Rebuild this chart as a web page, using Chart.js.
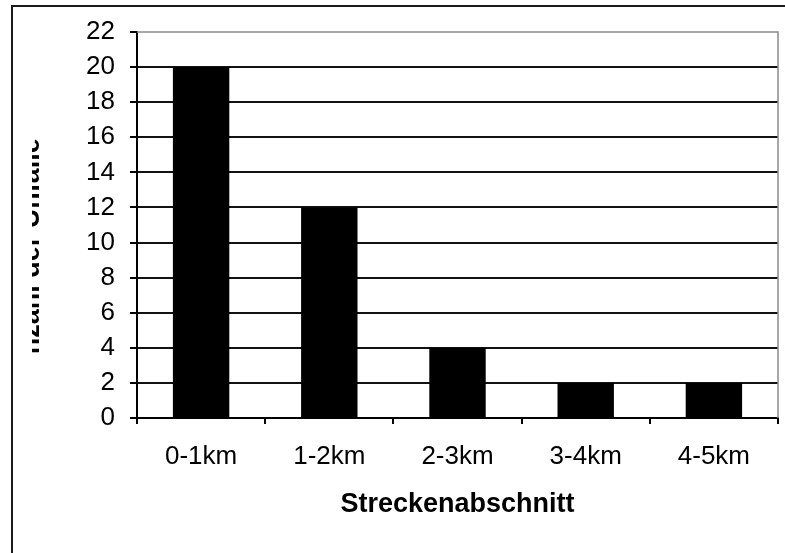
<!DOCTYPE html>
<html>
<head>
<meta charset="utf-8">
<script src="https://cdn.jsdelivr.net/npm/chart.js@4.4.1/dist/chart.umd.min.js"></script>
<style>
  html, body { margin: 0; padding: 0; background: #fff; }
  canvas { display: block; }
</style>
</head>
<body>
<canvas id="chart" width="785" height="553"></canvas>
<script>
// Unfälle je Streckenabschnitt
const categories = ['0-1km', '1-2km', '2-3km', '3-4km', '4-5km'];
const accidents = [20, 12, 4, 2, 2];
const yMin = 0;
const yMax = 22;
const yStep = 2;

const xTitle = 'Streckenabschnitt';
const yTitle = 'Anzahl der Unfälle';

const FONT = '"Liberation Sans", Arial, sans-serif';

// white page + outer frame (runs off the right/bottom edge like the original)
const framePlugin = {
    id: 'frame',
    beforeDraw(chart) {
        const ctx = chart.ctx;
        ctx.save();
        ctx.fillStyle = '#fff';
        ctx.fillRect(0, 0, chart.width, chart.height);
        ctx.strokeStyle = '#1a1a1a';
        ctx.lineWidth = 2;
        ctx.strokeRect(12, 6, chart.width + 50, chart.height + 50);
        ctx.restore();
    }
};

// gray top/right border of the plot area
const plotBorderPlugin = {
    id: 'plotBorder',
    beforeDatasetsDraw(chart) {
        const { ctx, chartArea } = chart;
        ctx.save();
        ctx.strokeStyle = '#8a8a8a';
        ctx.lineWidth = 1.5;
        ctx.beginPath();
        ctx.moveTo(chartArea.left, chartArea.top);
        ctx.lineTo(chartArea.right, chartArea.top);
        ctx.lineTo(chartArea.right, chartArea.bottom);
        ctx.stroke();
        ctx.restore();
    }
};

// y axis title, cut off on the left like in the source picture
const yTitlePlugin = {
    id: 'yTitle',
    afterDraw(chart) {
        const ctx = chart.ctx;
        ctx.save();
        ctx.beginPath();
        ctx.rect(32, 0, 40, 353);
        ctx.clip();
        ctx.translate(39, 256);
        ctx.rotate(-Math.PI / 2);
        ctx.font = 'bold 27px ' + FONT;
        ctx.fillStyle = '#000';
        ctx.textAlign = 'center';
        ctx.textBaseline = 'alphabetic';
        ctx.fillText(yTitle, 0, 0);
        ctx.restore();
    }
};

new Chart(document.getElementById('chart'), {
    type: 'bar',
    data: {
        labels: categories,
        datasets: [{
            data: accidents,
            backgroundColor: '#000',
            borderWidth: 0,
            categoryPercentage: 1,
            barPercentage: 0.44
        }]
    },
    options: {
        responsive: false,
        animation: false,
        layout: { padding: { left: 0, top: 32, right: 7, bottom: 0 } },
        plugins: {
            legend: { display: false },
            tooltip: { enabled: false }
        },
        scales: {
            x: {
                offset: true,
                grid: {
                    offset: true,
                    drawOnChartArea: false,
                    drawTicks: true,
                    tickLength: 6,
                    color: '#000',
                    lineWidth: 2
                },
                border: { display: true, color: '#000', width: 2 },
                ticks: {
                    color: '#000',
                    padding: 17,
                    maxRotation: 0,
                    font: { family: FONT, size: 26 }
                },
                title: {
                    display: true,
                    text: xTitle,
                    color: '#000',
                    padding: { top: 0, bottom: 32 },
                    font: { family: FONT, size: 27, weight: 'bold' }
                },
                afterFit(scale) { scale.height = 135; }
            },
            y: {
                min: yMin,
                max: yMax,
                grid: {
                    color: ctx => ctx.tick && ctx.tick.value === yMax ? 'rgba(0,0,0,0)' : '#111',
                    tickColor: '#000',
                    lineWidth: 2,
                    tickLength: 7
                },
                border: { display: true, color: '#000', width: 2 },
                ticks: {
                    stepSize: yStep,
                    color: '#000',
                    padding: 15,
                    font: { family: FONT, size: 26 }
                },
                afterFit(scale) { scale.width = 137; }
            }
        }
    },
    plugins: [framePlugin, plotBorderPlugin, yTitlePlugin]
});
</script>
</body>
</html>
